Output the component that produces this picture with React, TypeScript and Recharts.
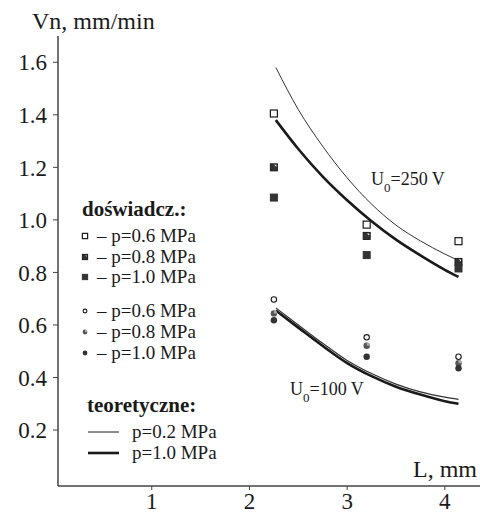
import React from "react";
import { ComposedChart, Line, Scatter, XAxis, YAxis } from "recharts";

const L_LINE = [2.27, 2.5, 2.75, 3.0, 3.25, 3.5, 3.75, 4.0, 4.14];
const V250_P02 = [1.58, 1.42, 1.28, 1.16, 1.06, 0.98, 0.92, 0.87, 0.845];
const V250_P10 = [1.38, 1.27, 1.165, 1.075, 0.995, 0.925, 0.865, 0.81, 0.783];
const V100_P02 = [0.665, 0.6, 0.53, 0.465, 0.415, 0.375, 0.345, 0.325, 0.317];
const V100_P10 = [0.655, 0.59, 0.52, 0.455, 0.405, 0.365, 0.335, 0.31, 0.3];

const L_EXP = [2.25, 3.2, 4.14];
const SQ_06 = [1.405, 0.982, 0.919];
const SQ_08 = [1.2, 0.939, 0.84];
const SQ_10 = [1.085, 0.866, 0.815];
const CI_06 = [0.697, 0.553, 0.479];
const CI_08 = [0.644, 0.521, 0.454];
const CI_10 = [0.618, 0.479, 0.435];

const X_TICKS = [1, 2, 3, 4];
const Y_TICKS = [0.2, 0.4, 0.6, 0.8, 1.0, 1.2, 1.4, 1.6];

const toLine = (ys: number[]) => L_LINE.map((x, i) => ({ x, y: ys[i] }));
const toPts = (ys: number[]) => L_EXP.map((x, i) => ({ x, y: ys[i] }));

const FONT = "'Liberation Serif', 'Times New Roman', serif";
const INK = "#1a1a1a";
const AX = "#444";

type Kind = "sqOpen" | "sqHalf" | "sqFull" | "ciOpen" | "ciHalf" | "ciFull";

const Marker = ({ cx, cy, kind, s = 1 }: { cx: number; cy: number; kind: Kind; s?: number }) => {
  if (kind.startsWith("sq")) {
    const h = 3.5 * s;
    if (kind === "sqOpen")
      return <rect x={cx - h} y={cy - h} width={2 * h} height={2 * h} fill="#fff" stroke={INK} strokeWidth={1.2} />;
    if (kind === "sqHalf")
      return (
        <g>
          <rect x={cx - h} y={cy - h} width={2 * h} height={2 * h} fill="#333" stroke={INK} strokeWidth={1} />
          <polygon points={`${cx + h * 0.1},${cy - h + 1} ${cx + h - 1},${cy - h + 1} ${cx + h - 1},${cy - h * 0.1}`} fill="#fff" />
        </g>
      );
    return <rect x={cx - h} y={cy - h} width={2 * h} height={2 * h} fill="#333" stroke="#333" strokeWidth={1} />;
  }
  const r = 3.2 * s;
  if (kind === "ciOpen") return <circle cx={cx} cy={cy} r={r - 0.5} fill="#fff" stroke={INK} strokeWidth={1.1} />;
  if (kind === "ciHalf")
    return (
      <g>
        <circle cx={cx} cy={cy} r={r} fill="#555" />
        <path d={`M ${cx} ${cy - r} A ${r} ${r} 0 0 1 ${cx + r} ${cy} L ${cx} ${cy} Z`} fill="#aaa" />
      </g>
    );
  return <circle cx={cx} cy={cy} r={r} fill="#333" />;
};

const shapeOf = (kind: Kind) => (p: any) => <Marker cx={p.cx} cy={p.cy} kind={kind} />;

const Overlay = () => {
  const rows: { kind: Kind; label: string; y: number }[] = [
    { kind: "sqOpen", label: "p=0.6 MPa", y: 236 },
    { kind: "sqHalf", label: "p=0.8 MPa", y: 257 },
    { kind: "sqFull", label: "p=1.0 MPa", y: 277 },
    { kind: "ciOpen", label: "p=0.6 MPa", y: 311 },
    { kind: "ciHalf", label: "p=0.8 MPa", y: 332 },
    { kind: "ciFull", label: "p=1.0 MPa", y: 353 },
  ];
  return (
    <svg width={480} height={515} style={{ position: "absolute", left: 0, top: 0, pointerEvents: "none" }}>
      <g fontFamily={FONT} fill={INK}>
        <text x={32} y={29} fontSize={24}>Vn, mm/min</text>
        <text x={413} y={477} fontSize={24}>L, mm</text>
        <text x={371} y={185} fontSize={18}>
          U<tspan fontSize={13} dy={7}>0</tspan>
          <tspan dy={-7}>=250 V</tspan>
        </text>
        <text x={290} y={395} fontSize={18}>
          U<tspan fontSize={13} dy={7}>0</tspan>
          <tspan dy={-7}>=100 V</tspan>
        </text>
        <text x={82} y={216} fontSize={21} fontWeight="bold">doświadcz.:</text>
        {rows.map((r, i) => (
          <g key={i}>
            <Marker cx={85} cy={r.y} kind={r.kind} s={0.75} />
            <text x={97} y={r.y + 6} fontSize={19}>– {r.label}</text>
          </g>
        ))}
        <text x={87} y={412} fontSize={21} fontWeight="bold">teoretyczne:</text>
        <line x1={88} x2={119} y1={432} y2={432} stroke={INK} strokeWidth={1} />
        <text x={132} y={438} fontSize={19}>p=0.2 MPa</text>
        <line x1={88} x2={119} y1={453} y2={453} stroke={INK} strokeWidth={2.6} />
        <text x={132} y={459} fontSize={19}>p=1.0 MPa</text>
      </g>
    </svg>
  );
};

export default function App() {
  return (
    <div style={{ position: "absolute", left: 0, top: 0, width: 480, height: 515, background: "#fff" }}>
      <ComposedChart width={480} height={515} margin={{ top: 36, right: 0, bottom: 0, left: 0 }}>
        <XAxis
          type="number"
          dataKey="x"
          domain={[0.04, 4.36]}
          ticks={X_TICKS}
          allowDataOverflow
          height={29}
          tickSize={4}
          tickMargin={3}
          stroke={AX}
          axisLine={{ stroke: AX, strokeWidth: 1.5 }}
          tick={{ fill: INK, fontSize: 23, fontFamily: FONT }}
        />
        <YAxis
          type="number"
          dataKey="y"
          domain={[-0.013, 1.7]}
          ticks={Y_TICKS}
          allowDataOverflow
          width={58}
          tickSize={5}
          tickMargin={6}
          stroke={AX}
          axisLine={{ stroke: AX, strokeWidth: 1.5 }}
          tickFormatter={(v: number) => v.toFixed(1)}
          tick={{ fill: INK, fontSize: 23, fontFamily: FONT }}
        />
        <Line data={toLine(V250_P02)} dataKey="y" type="monotone" stroke="#333" strokeWidth={1} dot={false} isAnimationActive={false} />
        <Line data={toLine(V250_P10)} dataKey="y" type="monotone" stroke={INK} strokeWidth={2.6} dot={false} isAnimationActive={false} />
        <Line data={toLine(V100_P02)} dataKey="y" type="monotone" stroke="#333" strokeWidth={1.2} dot={false} isAnimationActive={false} />
        <Line data={toLine(V100_P10)} dataKey="y" type="monotone" stroke={INK} strokeWidth={2.6} dot={false} isAnimationActive={false} />
        <Scatter data={toPts(SQ_06)} dataKey="y" shape={shapeOf("sqOpen")} isAnimationActive={false} />
        <Scatter data={toPts(SQ_08)} dataKey="y" shape={shapeOf("sqHalf")} isAnimationActive={false} />
        <Scatter data={toPts(SQ_10)} dataKey="y" shape={shapeOf("sqFull")} isAnimationActive={false} />
        <Scatter data={toPts(CI_06)} dataKey="y" shape={shapeOf("ciOpen")} isAnimationActive={false} />
        <Scatter data={toPts(CI_08)} dataKey="y" shape={shapeOf("ciHalf")} isAnimationActive={false} />
        <Scatter data={toPts(CI_10)} dataKey="y" shape={shapeOf("ciFull")} isAnimationActive={false} />
      </ComposedChart>
      <Overlay />
    </div>
  );
}
